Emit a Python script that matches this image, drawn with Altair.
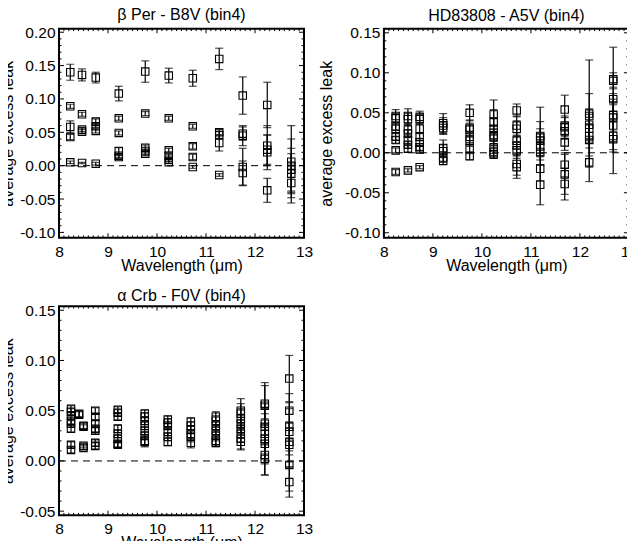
import altair as alt
import pandas as pd

FONT = "Liberation Sans"
W, H = 245, 209

# ---------------- data ----------------
bper_wl = [8.23, 8.47, 8.75, 9.22, 9.76, 10.24, 10.73, 11.27, 11.75, 12.25, 12.74]
bper_leak = [
    [0.140, 0.089, 0.058, 0.043, 0.005],
    [0.136, 0.077, 0.054, 0.051, 0.004],
    [0.132, 0.066, 0.059, 0.052, 0.003],
    [0.108, 0.071, 0.049, 0.022, 0.015, 0.013],
    [0.141, 0.078, 0.027, 0.022, 0.018],
    [0.135, 0.071, 0.023, 0.015, 0.009, 0.005],
    [0.131, 0.059, 0.029, 0.013, -0.002],
    [0.160, 0.050, 0.046, 0.034, -0.014],
    [0.105, 0.048, 0.045, -0.002, -0.011],
    [0.091, 0.030, 0.024, 0.020, -0.037],
    [0.006, 0.000, -0.006, -0.012, -0.026],
]
bper_err = [
    [0.012, 0.003, 0.009, 0.004, 0.002],
    [0.009, 0.003, 0.003, 0.003, 0.001],
    [0.008, 0.004, 0.004, 0.003, 0.002],
    [0.011, 0.003, 0.003, 0.005, 0.003, 0.002],
    [0.016, 0.003, 0.004, 0.003, 0.003],
    [0.011, 0.003, 0.003, 0.003, 0.003, 0.002],
    [0.012, 0.003, 0.004, 0.004, 0.002],
    [0.016, 0.004, 0.005, 0.012, 0.002],
    [0.028, 0.010, 0.015, 0.028, 0.018],
    [0.034, 0.030, 0.022, 0.026, 0.018],
    [0.054, 0.040, 0.032, 0.030, 0.030],
]

hd_wl = [8.24, 8.49, 8.73, 9.21, 9.75, 10.24, 10.71, 11.19, 11.69, 12.19, 12.68]
hd_leak = [
    [0.046, 0.043, 0.033, 0.030, 0.020, 0.016, 0.003, -0.024],
    [0.046, 0.042, 0.029, 0.024, 0.016, 0.010, 0.005, -0.022],
    [0.045, 0.042, 0.030, 0.020, 0.013, 0.007, 0.004, -0.018],
    [0.037, 0.034, 0.031, 0.006, 0.002, -0.006, -0.010],
    [0.050, 0.031, 0.029, 0.020, 0.015, 0.005, -0.004],
    [0.048, 0.038, 0.030, 0.022, 0.019, 0.007, 0.001, -0.002],
    [0.053, 0.034, 0.030, 0.015, 0.009, 0.003, -0.014, -0.018],
    [0.021, 0.019, 0.015, 0.008, 0.001, -0.020, -0.040],
    [0.054, 0.034, 0.032, 0.027, 0.013, -0.015, -0.027, -0.039],
    [0.049, 0.046, 0.035, 0.030, 0.021, 0.016, -0.012],
    [0.092, 0.090, 0.067, 0.047, 0.044, 0.034, 0.021, 0.017],
]
hd_err = [
    [0.008, 0.006, 0.005, 0.005, 0.004, 0.004, 0.003, 0.003],
    [0.009, 0.007, 0.006, 0.005, 0.005, 0.004, 0.004, 0.002],
    [0.007, 0.006, 0.006, 0.005, 0.005, 0.004, 0.004, 0.002],
    [0.012, 0.010, 0.008, 0.010, 0.008, 0.006, 0.005],
    [0.010, 0.010, 0.008, 0.007, 0.007, 0.006, 0.005],
    [0.018, 0.016, 0.014, 0.012, 0.010, 0.008, 0.006, 0.005],
    [0.008, 0.012, 0.010, 0.010, 0.012, 0.010, 0.014, 0.014],
    [0.036, 0.020, 0.015, 0.012, 0.010, 0.015, 0.025],
    [0.018, 0.012, 0.012, 0.010, 0.010, 0.015, 0.025, 0.020],
    [0.067, 0.028, 0.020, 0.018, 0.015, 0.020, 0.024],
    [0.040, 0.010, 0.015, 0.020, 0.030, 0.030, 0.020, 0.043],
]

acrb_wl = [8.245, 8.41, 8.50, 8.74, 9.20, 9.75, 10.22, 10.69, 11.20, 11.71, 12.20, 12.70]
acrb_leak = [
    [0.052, 0.049, 0.045, 0.040, 0.037, 0.032, 0.016, 0.011],
    [0.047, 0.046],
    [0.035, 0.034, 0.015, 0.013],
    [0.050, 0.044, 0.037, 0.032, 0.030, 0.018, 0.015],
    [0.051, 0.048, 0.044, 0.032, 0.027, 0.022, 0.017, 0.016],
    [0.047, 0.044, 0.040, 0.035, 0.030, 0.025, 0.020, 0.019],
    [0.041, 0.038, 0.035, 0.029, 0.024, 0.019],
    [0.039, 0.035, 0.031, 0.027, 0.024, 0.018],
    [0.044, 0.040, 0.035, 0.030, 0.025, 0.020, 0.018],
    [0.050, 0.047, 0.042, 0.037, 0.032, 0.027, 0.022, 0.019],
    [0.057, 0.055, 0.037, 0.034, 0.027, 0.022, 0.017, 0.006, 0.002],
    [0.082, 0.050, 0.034, 0.029, 0.019, 0.016, -0.004, -0.021],
]
acrb_err = [
    [0.003, 0.003, 0.003, 0.003, 0.003, 0.003, 0.003, 0.003],
    [0.003, 0.003],
    [0.003, 0.002, 0.002, 0.002],
    [0.003, 0.003, 0.003, 0.003, 0.003, 0.003, 0.003],
    [0.003, 0.003, 0.003, 0.004, 0.004, 0.004, 0.003, 0.003],
    [0.004, 0.004, 0.004, 0.004, 0.004, 0.004, 0.005, 0.005],
    [0.004, 0.004, 0.004, 0.004, 0.004, 0.004],
    [0.004, 0.004, 0.004, 0.004, 0.005, 0.005],
    [0.005, 0.005, 0.005, 0.005, 0.005, 0.005, 0.004],
    [0.012, 0.010, 0.010, 0.009, 0.009, 0.008, 0.010, 0.008],
    [0.021, 0.020, 0.020, 0.018, 0.020, 0.020, 0.020, 0.020, 0.016],
    [0.023, 0.017, 0.024, 0.023, 0.020, 0.022, 0.026, 0.015],
]

# axis tick labels and plotted ranges
X_LABELS = [8, 9, 10, 11, 12, 13]
X_MINOR = [round(8 + 0.1 * i, 2) for i in range(51) if i % 10 != 0]
Y_LABELS_BPER = [-0.10, -0.05, 0.00, 0.05, 0.10, 0.15, 0.20]
Y_LABELS_HD = [-0.10, -0.05, 0.00, 0.05, 0.10, 0.15]
Y_LABELS_ACRB = [-0.05, 0.00, 0.05, 0.10, 0.15]
Y_RANGE_BPER = [-0.1081, 0.2051]
Y_RANGE_HD = [-0.1063, 0.1550]
Y_RANGE_ACRB = [-0.0540, 0.1540]
ZERO = [0.0]


def flatten(wls, leaks, errs):
    rows = []
    for w, ls, es in zip(wls, leaks, errs):
        for l, e in zip(ls, es):
            rows.append({"wl": w, "leak": l, "lo": l - e, "hi": l + e})
    return pd.DataFrame(rows)


def panel(title, wls, leaks, errs, ylabels, ydom, title_offset, ytitle_pad):
    df = flatten(wls, leaks, errs)
    n = int(round((ylabels[-1] - ylabels[0]) / 0.01))
    yminor = [round(ylabels[0] + 0.01 * i, 3) for i in range(n + 1) if i % 5 != 0]

    xs = alt.Scale(domain=[8, 13], nice=False, zero=False)
    ys = alt.Scale(domain=ydom, nice=False, zero=False)
    xaxis = alt.Axis(values=X_LABELS, format="d", ticks=False, domain=False, grid=False,
                     labelPadding=6.8, labelFontSize=15.5, labelFont=FONT, labelColor="black",
                     labelFlush=False, labelOverlap=False,
                     title="Wavelength (\u03bcm)", titleFont=FONT, titleFontSize=16,
                     titleFontWeight="normal", titleColor="black", titlePadding=-2.5)
    yaxis = alt.Axis(values=ylabels, ticks=False, domain=False, grid=False,
                     labelExpr="datum.value < -0.0001 ? '-' + format(-datum.value, '.2f') : format(abs(datum.value), '.2f')",
                     labelPadding=4, labelFontSize=15.5, labelFont=FONT, labelColor="black",
                     labelFlush=False, labelOverlap=False,
                     title="average excess leak", titleFont=FONT, titleFontSize=16,
                     titleFontWeight="normal", titleColor="black", titlePadding=ytitle_pad)

    def X(f):
        return alt.X(f"{f}:Q", scale=xs, axis=xaxis)

    def Y(f):
        return alt.Y(f"{f}:Q", scale=ys, axis=yaxis)

    xmaj = pd.DataFrame({"wl": X_LABELS})
    xmin = pd.DataFrame({"wl": X_MINOR})
    ymaj = pd.DataFrame({"leak": ylabels})
    ymin = pd.DataFrame({"leak": yminor})
    tk = dict(color="black", strokeWidth=1)

    layers = [
        alt.Chart(xmaj).mark_rule(**tk).encode(x=X("wl"), y=alt.value(H), y2=alt.value(H - 4.5)),
        alt.Chart(xmaj).mark_rule(**tk).encode(x=X("wl"), y=alt.value(0), y2=alt.value(4.5)),
        alt.Chart(xmin).mark_rule(**tk).encode(x=X("wl"), y=alt.value(H), y2=alt.value(H - 2.3)),
        alt.Chart(xmin).mark_rule(**tk).encode(x=X("wl"), y=alt.value(0), y2=alt.value(2.3)),
        alt.Chart(ymaj).mark_rule(**tk).encode(y=Y("leak"), x=alt.value(0), x2=alt.value(5)),
        alt.Chart(ymaj).mark_rule(**tk).encode(y=Y("leak"), x=alt.value(W), x2=alt.value(W - 5)),
        alt.Chart(ymin).mark_rule(**tk).encode(y=Y("leak"), x=alt.value(0), x2=alt.value(2.5)),
        alt.Chart(ymin).mark_rule(**tk).encode(y=Y("leak"), x=alt.value(W), x2=alt.value(W - 2.5)),
        alt.Chart(pd.DataFrame({"leak": ZERO})).mark_rule(color="black", strokeWidth=1, strokeDash=[7, 5]).encode(
            y=Y("leak"), x=alt.value(0), x2=alt.value(W)),
        alt.Chart(df).mark_rule(color="black", strokeWidth=1.2).encode(x=X("wl"), y=Y("lo"), y2="hi"),
        alt.Chart(df).mark_tick(color="black", thickness=1.2, size=8, orient="horizontal").encode(x=X("wl"), y=Y("lo")),
        alt.Chart(df).mark_tick(color="black", thickness=1.2, size=8, orient="horizontal").encode(x=X("wl"), y=Y("hi")),
        alt.Chart(df).mark_point(shape="square", filled=False, color="black", size=55, strokeWidth=1.1, opacity=1).encode(
            x=X("wl"), y=Y("leak")),
    ]
    return alt.layer(*layers).properties(
        width=W, height=H,
        title=alt.TitleParams(text=title, font=FONT, fontSize=16, fontWeight="normal",
                              color="black", offset=title_offset, anchor="middle"),
    )


p1 = panel("\u03b2 Per - B8V (bin4)", bper_wl, bper_leak, bper_err, Y_LABELS_BPER, Y_RANGE_BPER, 1.9, 4.3)
p2 = panel("HD83808 - A5V (bin4)", hd_wl, hd_leak, hd_err, Y_LABELS_HD, Y_RANGE_HD, 1.9, 10.5)
p3 = panel("\u03b1 Crb - F0V (bin4)", acrb_wl, acrb_leak, acrb_err, Y_LABELS_ACRB, Y_RANGE_ACRB, -0.6, 4.3)

top = alt.hconcat(p1, p2, spacing=2.9)
chart = alt.vconcat(top, p3, spacing=11.4).properties(
    padding={"left": -10, "top": -2.2, "right": -12, "bottom": -12.3},
    background="white",
).configure_view(stroke="black", strokeWidth=2)

chart.save("out.html", embed_options={"renderer": "svg", "actions": False})
